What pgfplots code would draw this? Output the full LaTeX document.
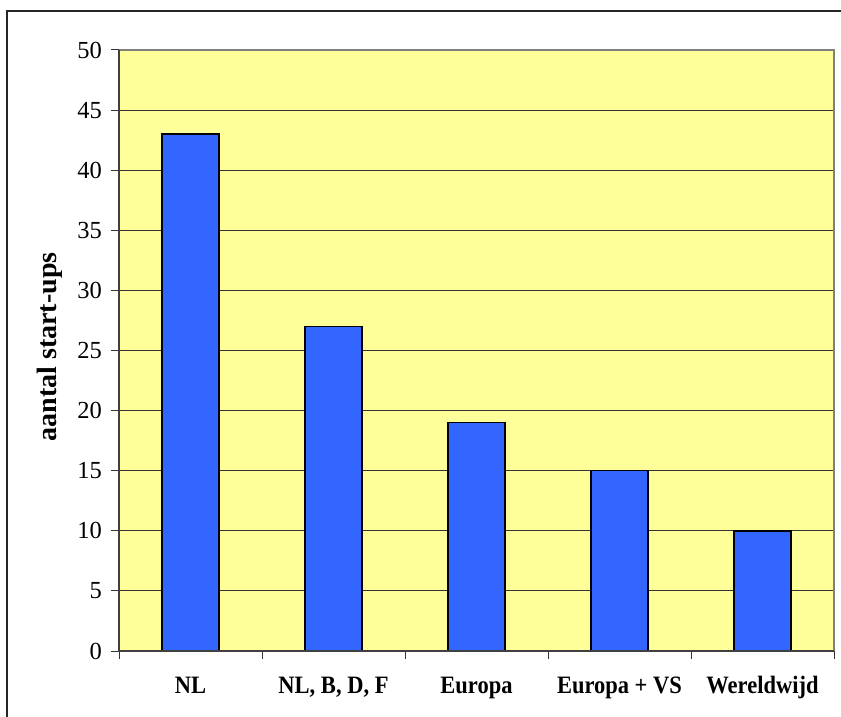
\documentclass[border=0pt]{standalone}
\usepackage{pgfplots}
\pgfplotsset{compat=1.18}
\usepackage{fontspec}
\setmainfont{Liberation Serif}
\newfontfamily\labfont[FakeStretch=0.9]{Liberation Serif}
\definecolor{bgy}{HTML}{FFFF99}
\definecolor{barb}{HTML}{3366FF}
\begin{document}
\begin{tikzpicture}[x=1pt,y=1pt]
\useasboundingbox (0,0) rectangle (841,716);
\draw[black!85, line width=1.5pt] (7,-5) -- (7,705) -- (850,705);
\begin{axis}[
  at={(119pt,65pt)}, anchor=south west,
  scale only axis, width=715pt, height=601pt,
  xmin=-0.5, xmax=4.5, ymin=0, ymax=50,
  ytick={0,5,...,50},
  xtick={0,1,2,3,4},
  xticklabels={NL, {NL, B, D, F}, Europa, Europa + VS, Wereldwijd},
  minor xtick={-0.5,0.5,1.5,2.5,3.5,4.5},
  major x tick style={draw=none},
  minor x tick style={black!80, line width=1pt},
  major y tick style={black!80, line width=1pt},
  tick align=outside, tick pos=left,
  major tick length=8pt, minor tick length=8pt,
  ymajorgrids, grid style={black!80, line width=1pt},
  axis background/.style={fill=bgy},
  axis line style={draw=none},
  /pgf/number format/assume math mode=true,
  yticklabel style={font=\fontsize{24.5}{24.5}\selectfont, inner sep=0pt, anchor=east, xshift=-9pt},
  xticklabel style={font=\labfont\bfseries\fontsize{25}{25}\selectfont, inner sep=0pt, anchor=base, yshift=-34pt},
  ylabel={aantal start-ups},
  ylabel style={font=\bfseries\fontsize{28}{28}\selectfont, at={(axis description cs:-0.0965,0.506)}, anchor=center, rotate=0},
  clip=false,
]
\addplot[ybar, bar width=57pt, fill=barb, draw=black, line width=1.5pt]
  coordinates {(0,43) (1,27) (2,19) (3,15) (4,10)};
\draw[gray, line width=2pt] (rel axis cs:0,1) -- (rel axis cs:1,1) -- (rel axis cs:1,0);
\draw[black!75, line width=1.5pt] (rel axis cs:0,1) -- (rel axis cs:0,0) -- (rel axis cs:1,0);
\end{axis}
\end{tikzpicture}
\end{document}
